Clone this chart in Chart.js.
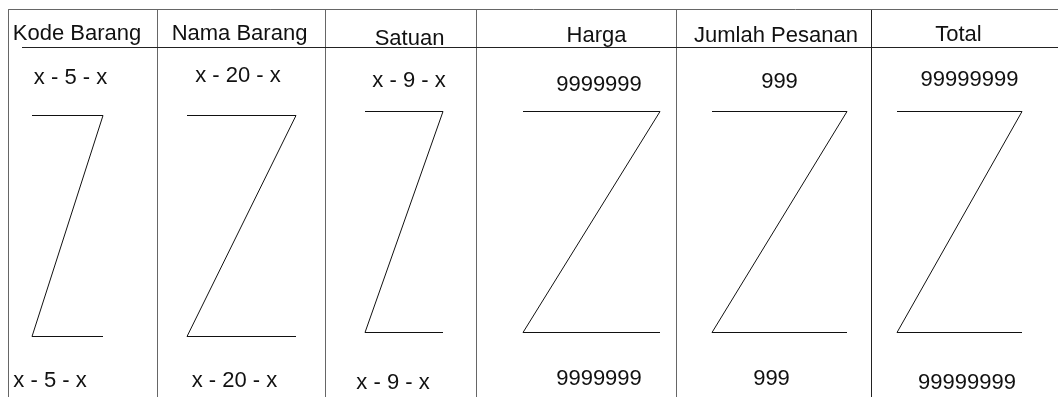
<!DOCTYPE html>
<html>
<head>
    <title>Layout Tabel Pesanan</title>
    <script src="https://cdn.jsdelivr.net/npm/chart.js"></script>
    <style>
        body {
            margin: 0;
            background: #fff;
            overflow: hidden;
        }
        canvas {
            display: block;
        }
    </style>
</head>
<body>
    <canvas id="layoutChart" width="1058" height="397"></canvas>

    <script>
        // Column texts
        const headers = ['Kode Barang', 'Nama Barang', 'Satuan', 'Harga', 'Jumlah Pesanan', 'Total'];
        const topValues = ['x - 5 - x', 'x - 20 - x', 'x - 9 - x', '9999999', '999', '99999999'];
        const bottomValues = ['x - 5 - x', 'x - 20 - x', 'x - 9 - x', '9999999', '999', '99999999'];

        // Where the texts sit (page units)
        const headerX = [77, 239.5, 409.5, 596.5, 776, 958.5];
        const headerY = [33, 33, 38, 35, 35, 34];
        const topX = [70.5, 238, 409, 599, 779.5, 969.5];
        const topY = [77, 75, 80, 84, 81, 79];
        const bottomX = [50, 234.5, 393, 599, 771.5, 967];
        const bottomY = [380, 380, 382, 378, 378, 382];

        // Table frame
        const colEdges = [8.5, 157.5, 325.5, 476.5, 676.5, 871.5];
        const frameTop = 9.5;
        const frameBottom = 397;
        const frameRight = 1058;
        const headerLineY = 47.5;
        const headerLineStart = 22;

        // "Z" placeholders per column
        const zLeft = [32, 187, 365, 523, 712, 897];
        const zRight = [103, 296, 443, 660, 847, 1022];
        const zTop = [115.5, 115.5, 111.5, 111.5, 111.5, 111.5];
        const zBottom = [336.5, 336.5, 332.5, 332.5, 332.5, 332.5];

        const lineStyle = (color) => ({
            type: 'line', showLine: true, fill: false, tension: 0,
            borderColor: color, borderWidth: 1, pointRadius: 0
        });

        const datasets = [];
        // top border + header underline
        datasets.push({ ...lineStyle('#666'), data: [{ x: colEdges[0], y: frameTop }, { x: frameRight, y: frameTop }] });
        datasets.push({ ...lineStyle('#222'), data: [{ x: headerLineStart, y: headerLineY }, { x: frameRight, y: headerLineY }] });
        // vertical column lines
        colEdges.forEach((e, i) => {
            datasets.push({ ...lineStyle(i === 5 ? '#222' : '#666'), data: [{ x: e, y: frameTop }, { x: e, y: frameBottom }] });
        });
        // Z shapes
        zLeft.forEach((l, i) => {
            datasets.push({
                ...lineStyle('#111'),
                data: [
                    { x: l, y: zTop[i] }, { x: zRight[i], y: zTop[i] },
                    { x: l, y: zBottom[i] }, { x: zRight[i], y: zBottom[i] }
                ]
            });
        });

        // Draw the texts through the chart scales
        const textPlugin = {
            id: 'cellTexts',
            afterDatasetsDraw(chart) {
                const { ctx, scales: { x, y } } = chart;
                ctx.save();
                ctx.fillStyle = '#111';
                ctx.font = '22px "Liberation Sans", Arial, sans-serif';
                ctx.textAlign = 'center';
                ctx.textBaseline = 'middle';
                const put = (labels, xs, ys) => labels.forEach((t, i) => {
                    ctx.fillText(t, x.getPixelForValue(xs[i]), y.getPixelForValue(ys[i]) + 1);
                });
                put(headers, headerX, headerY);
                put(topValues, topX, topY);
                put(bottomValues, bottomX, bottomY);
                ctx.restore();
            }
        };

        new Chart(document.getElementById('layoutChart').getContext('2d'), {
            type: 'scatter',
            data: { datasets: datasets },
            options: {
                responsive: false,
                animation: false,
                layout: { padding: 0 },
                plugins: { legend: { display: false }, tooltip: { enabled: false } },
                scales: {
                    x: { type: 'linear', min: 0, max: 1058, display: false },
                    y: { type: 'linear', min: 0, max: 397, reverse: true, display: false }
                }
            },
            plugins: [textPlugin]
        });
    </script>
</body>
</html>
